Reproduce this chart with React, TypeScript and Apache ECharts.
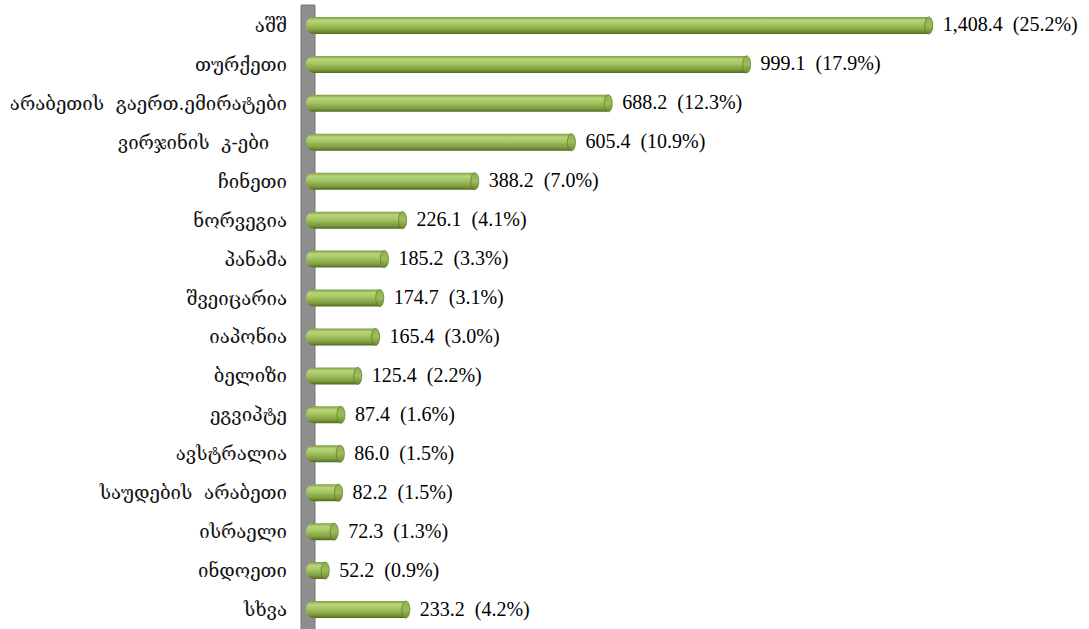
import React, { useEffect, useRef } from "react";
import * as echarts from "echarts";

const categories = [
  "აშშ",
  "თურქეთი",
  "არაბეთის\u00a0\u00a0გაერთ.ემირატები",
  "ვირჯინის\u00a0\u00a0კ-ები\u00a0\u00a0\u00a0",
  "ჩინეთი",
  "ნორვეგია",
  "პანამა",
  "შვეიცარია",
  "იაპონია",
  "ბელიზი",
  "ეგვიპტე",
  "ავსტრალია",
  "საუდების\u00a0\u00a0არაბეთი",
  "ისრაელი",
  "ინდოეთი",
  "სხვა",
];
const values = [1408.4, 999.1, 688.2, 605.4, 388.2, 226.1, 185.2, 174.7, 165.4, 125.4, 87.4, 86.0, 82.2, 72.3, 52.2, 233.2];
const shares = [25.2, 17.9, 12.3, 10.9, 7.0, 4.1, 3.3, 3.1, 3.0, 2.2, 1.6, 1.5, 1.5, 1.3, 0.9, 4.2];

const fmt = (v: number) =>
  v.toLocaleString("en-US", { minimumFractionDigits: 1, maximumFractionDigits: 1 });

export default function App() {
  const ref = useRef<HTMLDivElement>(null);
  useEffect(() => {
    document.body.style.margin = "0";
    const chart = echarts.init(ref.current!, null, { renderer: "svg" });
    const barGrad = new echarts.graphic.LinearGradient(0, 0, 0, 1, [
      { offset: 0, color: "#7f9c42" },
      { offset: 0.2, color: "#b7d67a" },
      { offset: 0.45, color: "#a5c564" },
      { offset: 0.8, color: "#7e9e3e" },
      { offset: 1, color: "#4e6a20" },
    ]);
    const capGrad = new echarts.graphic.LinearGradient(0, 0, 0, 1, [
      { offset: 0, color: "#8fb04e" },
      { offset: 0.5, color: "#9cbd58" },
      { offset: 1, color: "#6a8a2f" },
    ]);
    const data = values.map((v, i) => [v, i, shares[i]]);
    chart.setOption({
      animation: false,
      grid: { left: 306, right: 71, top: 6, bottom: 0, containLabel: false },
      xAxis: {
        type: "value",
        min: 0,
        max: 1600,
        show: false,
      },
      yAxis: {
        type: "category",
        data: categories,
        inverse: true,
        axisLine: { show: false },
        axisTick: { show: false },
        axisLabel: {
          margin: 19,
          color: "#111",
          fontSize: 18.6,
          fontFamily: "DejaVu Serif, DejaVu Sans",
        },
      },
      graphic: [
        {
          type: "rect",
          z: 0,
          shape: { x: 301, y: 5, width: 14, height: 640 },
          style: { fill: "#8e8e8e", stroke: "#767676", lineWidth: 1 },
        },
      ],
      series: [
        {
          type: "custom",
          z: 10,
          data,
          encode: { x: 0, y: 1 },
          renderItem: (params: any, api: any) => {
            const v = api.value(0);
            const idx = api.value(1);
            const pct = api.value(2);
            const s = api.coord([0, idx]);
            const e = api.coord([v, idx]);
            const h = 17;
            const y = s[1] - h / 2;
            const x0 = s[0];
            const x1 = e[0];
            return {
              type: "group",
              children: [
                {
                  type: "rect",
                  shape: { x: x0, y, width: Math.max(x1 - 4 - x0, 1), height: h, r: [8, 0, 0, 8] },
                  style: { fill: barGrad },
                },
                {
                  type: "ellipse",
                  shape: { cx: x1 - 4, cy: s[1], rx: 4, ry: h / 2 },
                  style: { fill: capGrad, stroke: "#5f7d27", lineWidth: 0.8 },
                },
                {
                  type: "text",
                  style: {
                    text: `${fmt(v)}\u00a0\u00a0(${pct.toFixed(1)}%)`,
                    x: x1 + 10,
                    y: s[1] - 1,
                    verticalAlign: "middle",
                    align: "left",
                    fill: "#000",
                    font: '20px "Liberation Serif"',
                  },
                },
              ],
            };
          },
        },
      ],
    });
    return () => chart.dispose();
  }, []);
  return <div ref={ref} style={{ width: 1089, height: 629 }} />;
}
